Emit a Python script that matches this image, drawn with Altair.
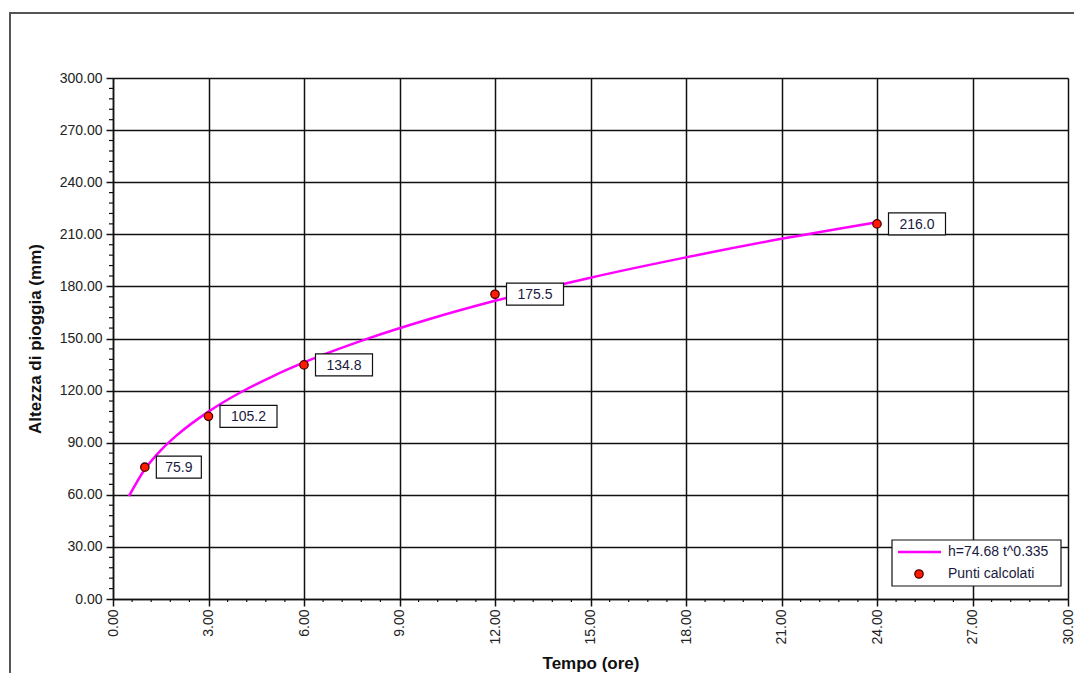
import altair as alt
import pandas as pd

# ---- data ----
hours = [1, 3, 6, 12, 24]
heights = [75.9, 105.2, 134.8, 175.5, 216.0]
labels = ["75.9", "105.2", "134.8", "175.5", "216.0"]

curve_t = [0.5, 1, 1.5, 2, 3, 4, 5, 6, 8, 10, 12, 15, 18, 21, 24]
curve_h = [59.2, 74.7, 85.6, 94.2, 107.9, 118.9, 128.1, 136.2, 149.9, 161.5,
           171.7, 185.0, 196.7, 207.4, 217.0]

x_ticks = [0, 3, 6, 9, 12, 15, 18, 21, 24, 27, 30]
y_ticks = [0, 30, 60, 90, 120, 150, 180, 210, 240, 270, 300]
x_minor = [round(i * 0.6, 1) for i in range(51) if i % 5]
y_minor = [v for v in range(0, 301, 6) if v % 30]

legend_names = ["h=74.68 t^0.335", "Punti calcolati"]
title_text = "Gumbel 50"
x_title = "Tempo (ore)"
y_title = "Altezza di pioggia (mm)"

FONT = "Liberation Sans"
W, H = 955, 521
PAD_L, PAD_T = 105, 70
PAD_R = 1066 - PAD_L - W
PAD_B = 665 - PAD_T - H

pts = pd.DataFrame({"t": hours, "h": heights, "label": labels})
curve = pd.DataFrame({"t": curve_t, "h": curve_h})

xs = alt.Scale(domain=[0, 30], nice=False, zero=False)
ys = alt.Scale(domain=[0, 300], nice=False, zero=False)

x_axis = alt.Axis(values=x_ticks, format=".2f", labelAngle=270, tickSize=7,
                  labelPadding=3, labelFontSize=14, labelFont=FONT,
                  labelColor="#222", tickColor="#111", domainColor="#111",
                  domainWidth=1.5, tickWidth=1.5, grid=True, gridColor="#111",
                  gridWidth=1.5, gridOpacity=1, title=x_title, titleFont=FONT,
                  titleFontSize=17, titleFontWeight="bold", titleColor="#111",
                  titleY=64, titleBaseline="middle")
y_axis = alt.Axis(values=y_ticks, format=".2f", tickSize=7, labelPadding=4,
                  labelFontSize=14, labelFont=FONT, labelColor="#222",
                  tickColor="#111", domainColor="#111", domainWidth=1.5,
                  tickWidth=1.5, grid=True, gridColor="#111", gridWidth=1.5,
                  gridOpacity=1, title=y_title, titleFont=FONT,
                  titleFontSize=17, titleFontWeight="bold", titleColor="#111",
                  titleX=-78, titleY=H / 2, titleAngle=270, titleAlign="center",
                  titleBaseline="middle")

one = pd.DataFrame({"k": [0]})

frame = alt.Chart(one).mark_rect(filled=False, stroke="#555", strokeWidth=2).encode(
    x=alt.value(-103), x2=alt.value(W + 60), y=alt.value(-65), y2=alt.value(H + 200))

line = alt.Chart(curve).mark_line(color="#ff00ff", strokeWidth=2.5,
                                  interpolate="monotone").encode(
    x=alt.X("t:Q", scale=xs, axis=x_axis),
    y=alt.Y("h:Q", scale=ys, axis=y_axis),
)

ymin = alt.Chart(pd.DataFrame({"v": y_minor})).mark_rule(color="#111", strokeWidth=1.2).encode(
    y=alt.Y("v:Q", scale=ys), x=alt.value(-4), x2=alt.value(0))
xmin = alt.Chart(pd.DataFrame({"v": x_minor})).mark_rule(color="#111", strokeWidth=1.2).encode(
    x=alt.X("v:Q", scale=xs), y=alt.value(H), y2=alt.value(H + 3))

points = alt.Chart(pts).mark_point(filled=True, fill="#ff1a00", stroke="#4a0000",
                                   strokeWidth=1.3, size=70, opacity=1).encode(
    x=alt.X("t:Q", scale=xs), y=alt.Y("h:Q", scale=ys))


def label_layer(nchar, w):
    base = alt.Chart(pts).transform_filter(f"length(datum.label) == {nchar}")
    box = base.mark_rect(fill="white", stroke="#111", strokeWidth=1.2,
                         xOffset=11.5, x2Offset=11.5 + w, yOffset=-11, y2Offset=11).encode(
        x=alt.X("t:Q", scale=xs), x2="t:Q", y=alt.Y("h:Q", scale=ys), y2="h:Q")
    txt = base.mark_text(font=FONT, fontSize=14, color="#1a1a40", align="center",
                         baseline="middle", dx=11.5 + w / 2, dy=1).encode(
        x=alt.X("t:Q", scale=xs), y=alt.Y("h:Q", scale=ys), text="label:N")
    return box + txt


lab4 = label_layer(4, 45)
lab5 = label_layer(5, 57)

# legend (drawn inside plot, bottom-right)
LX0, LX1, LY0, LY1 = W - 176, W - 7, 462, 508
leg_box = alt.Chart(one).mark_rect(fill="white", stroke="#111", strokeWidth=1.2).encode(
    x=alt.value(LX0), x2=alt.value(LX1), y=alt.value(LY0), y2=alt.value(LY1))
leg_line = alt.Chart(one).mark_rule(color="#ff00ff", strokeWidth=2.5).encode(
    x=alt.value(LX0 + 6), x2=alt.value(LX0 + 49), y=alt.value(LY0 + 12))
leg_pt = alt.Chart(one).mark_point(filled=True, fill="#ff1a00", stroke="#4a0000",
                                   strokeWidth=1.3, size=70, opacity=1).encode(
    x=alt.value(LX0 + 27), y=alt.value(LY0 + 34))
leg_txt1 = alt.Chart(pd.DataFrame({"name": [legend_names[0]]})).mark_text(
    font=FONT, fontSize=14, color="#1a1a40", align="left", baseline="middle").encode(
    x=alt.value(LX0 + 56), y=alt.value(LY0 + 12), text="name:N")
leg_txt2 = alt.Chart(pd.DataFrame({"name": [legend_names[1]]})).mark_text(
    font=FONT, fontSize=14, color="#1a1a40", align="left", baseline="middle").encode(
    x=alt.value(LX0 + 56), y=alt.value(LY0 + 34), text="name:N")

chart = alt.layer(
    frame, line, ymin, xmin, points, lab4, lab5, leg_box, leg_line, leg_pt,
    leg_txt1, leg_txt2
).properties(
    width=W, height=H,
    title=alt.TitleParams(title_text, font=FONT, fontSize=20, fontWeight="bold",
                          color="#10108a", anchor="middle", offset=20),
    autosize=alt.AutoSizeParams(type="none"),
    padding={"left": PAD_L, "top": PAD_T, "right": PAD_R, "bottom": PAD_B},
).configure_view(stroke="#111", strokeWidth=1.5).configure(background="white")

chart.save("out.html", embed_options={"renderer": "svg", "actions": False})
